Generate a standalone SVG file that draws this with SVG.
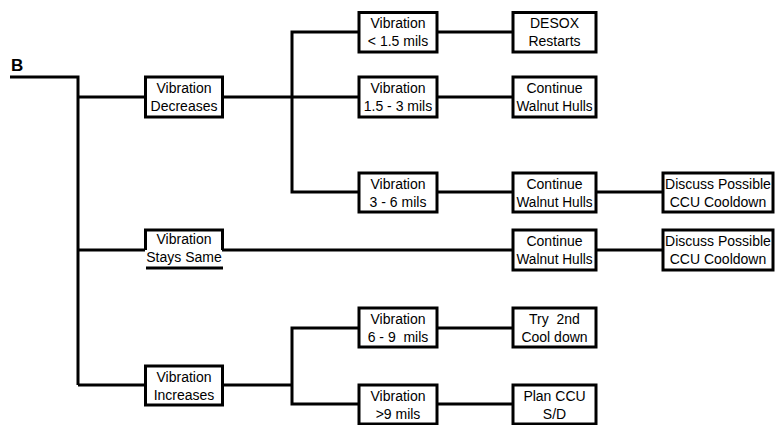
<svg xmlns="http://www.w3.org/2000/svg" width="775" height="425" viewBox="0 0 775 425">
<style>
.box{fill:#fff;stroke:#000;stroke-width:3}
.ln{fill:none;stroke:#000;stroke-width:3}
text{font-family:"Liberation Sans",Arial,sans-serif;font-size:14px;fill:#000;text-anchor:middle}
.b{font-weight:bold;font-size:17px;text-anchor:start}
</style>
<rect width="775" height="425" fill="#fff"/>
<g id="connectors">
<path class="ln" d="M10,77 H78 V385"/>
<path class="ln" d="M78,97 H145"/>
<path class="ln" d="M78,250 H145"/>
<path class="ln" d="M78,385 H145"/>
<path class="ln" d="M222,97 H359"/>
<path class="ln" d="M359,32 H292 V192 H359"/>
<path class="ln" d="M222,250 H513"/>
<path class="ln" d="M222,385 H292"/>
<path class="ln" d="M359,328 H292 V404 H359"/>
<path class="ln" d="M437,32 H513"/>
<path class="ln" d="M437,97 H513"/>
<path class="ln" d="M437,192 H513"/>
<path class="ln" d="M437,328 H513"/>
<path class="ln" d="M437,404 H513"/>
<path class="ln" d="M596,192 H663"/>
<path class="ln" d="M596,250 H663"/>
</g>
<g id="nB"><text class="b" x="11" y="71">B</text></g>
<g id="n1"><rect class="box" x="145.5" y="77" width="77" height="40"/><text x="184" y="93">Vibration</text><text x="184" y="111">Decreases</text></g>
<g id="n2"><path class="ln" d="M145.5,250 V230 H222.5 V250"/><path class="ln" d="M146,268 H223"/><text x="184" y="244">Vibration</text><text x="184" y="262">Stays Same</text></g>
<g id="n3"><rect class="box" x="145.5" y="366" width="77" height="39"/><text x="184" y="382">Vibration</text><text x="184" y="400">Increases</text></g>
<g id="n4"><rect class="box" x="359" y="12.5" width="78" height="39.5"/><text x="398" y="28">Vibration</text><text x="398" y="46">&lt; 1.5 mils</text></g>
<g id="n5"><rect class="box" x="359" y="77" width="78" height="40"/><text x="398" y="93">Vibration</text><text x="398" y="111">1.5 - 3 mils</text></g>
<g id="n6"><rect class="box" x="359" y="173" width="78" height="39"/><text x="398" y="189">Vibration</text><text x="398" y="207">3 - 6 mils</text></g>
<g id="n7"><rect class="box" x="359" y="308" width="78" height="39"/><text x="398" y="324">Vibration</text><text x="398" y="342" xml:space="preserve">6 - 9  mils</text></g>
<g id="n8"><rect class="box" x="359" y="385" width="78" height="39"/><text x="398" y="401">Vibration</text><text x="398" y="419">&gt;9 mils</text></g>
<g id="n9"><rect class="box" x="513" y="12.5" width="83" height="39.5"/><text x="554.5" y="28">DESOX</text><text x="554.5" y="46">Restarts</text></g>
<g id="n10"><rect class="box" x="513" y="77" width="83" height="40"/><text x="554.5" y="93">Continue</text><text x="554.5" y="111" textLength="76" lengthAdjust="spacingAndGlyphs">Walnut Hulls</text></g>
<g id="n11"><rect class="box" x="513" y="173" width="83" height="39"/><text x="554.5" y="189">Continue</text><text x="554.5" y="207" textLength="76" lengthAdjust="spacingAndGlyphs">Walnut Hulls</text></g>
<g id="n12"><rect class="box" x="513" y="230" width="83" height="40"/><text x="554.5" y="246">Continue</text><text x="554.5" y="264" textLength="76" lengthAdjust="spacingAndGlyphs">Walnut Hulls</text></g>
<g id="n13"><rect class="box" x="513" y="308" width="83" height="39"/><text x="554.5" y="324" xml:space="preserve">Try  2nd</text><text x="554.5" y="342">Cool down</text></g>
<g id="n14"><rect class="box" x="513" y="385" width="83" height="39"/><text x="554.5" y="401">Plan CCU</text><text x="554.5" y="419">S/D</text></g>
<g id="n15"><rect class="box" x="663" y="173" width="110" height="39"/><text x="718" y="189">Discuss Possible</text><text x="718" y="207">CCU Cooldown</text></g>
<g id="n16"><rect class="box" x="663" y="230" width="110" height="40"/><text x="718" y="246">Discuss Possible</text><text x="718" y="264">CCU Cooldown</text></g>
</svg>
